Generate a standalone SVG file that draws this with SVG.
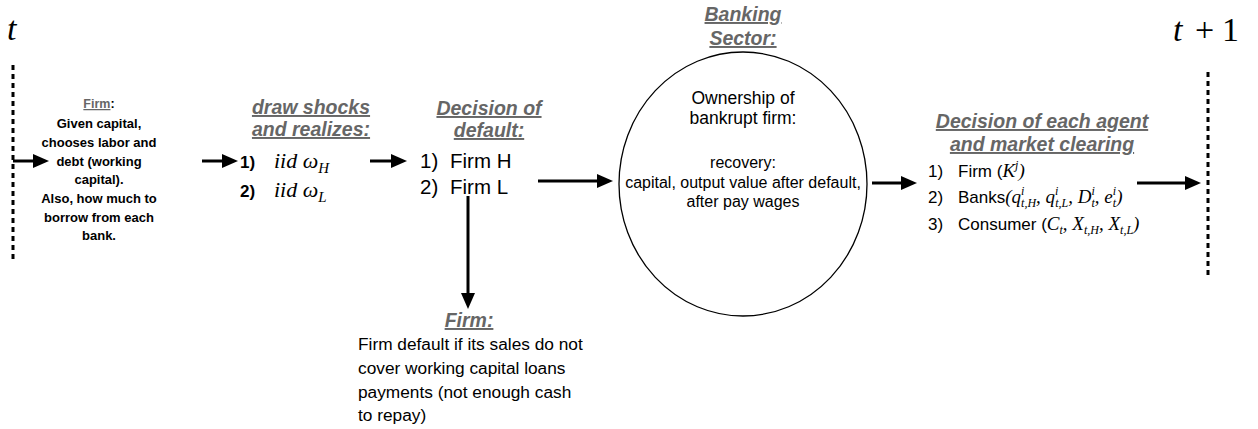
<svg xmlns="http://www.w3.org/2000/svg" width="1258" height="429" viewBox="0 0 1258 429">
<style>
.sans{font-family:"Liberation Sans",Arial,Helvetica,sans-serif;fill:#000}
.bold{font-weight:bold}
.serif{font-family:"Liberation Serif","Times New Roman",serif;font-style:italic;fill:#000}
.up{font-style:normal}
.head{font-family:"Liberation Sans",Arial,Helvetica,sans-serif;font-weight:bold;font-style:italic;font-size:19.5px;fill:#666;text-decoration:underline}
.gray{fill:#666;text-decoration:underline}
.mid{text-anchor:middle}
.conn{stroke:#000;stroke-width:3;fill:none}
.dash{stroke:#000;stroke-width:3;stroke-dasharray:5 4;fill:none}
.shape{stroke:#000;stroke-width:1.3;fill:#fff}
</style>
<defs>
<marker id="ah" viewBox="0 0 16 14" markerWidth="16" markerHeight="14" refX="5" refY="7" orient="auto" markerUnits="userSpaceOnUse">
<path d="M0,0 L16,7 L0,14 Z" fill="#000"/>
</marker>
</defs>
<rect width="1258" height="429" fill="#fff"/>

<g id="time-t">
<text class="serif" x="7" y="40" font-size="34">t</text>
<line class="dash" x1="13" y1="65" x2="13" y2="260"/>
</g>

<g id="time-t1">
<text class="serif" y="41" font-size="34"><tspan x="1173">t</tspan><tspan class="up" x="1195">+</tspan><tspan class="up" x="1222">1</tspan></text>
<line class="dash" x1="1208" y1="72" x2="1208" y2="279"/>
</g>

<g id="connectors">
<line class="conn" x1="13" y1="161" x2="38" y2="161" marker-end="url(#ah)"/>
<line class="conn" x1="202" y1="161" x2="227" y2="161" marker-end="url(#ah)"/>
<line class="conn" x1="370" y1="161" x2="396" y2="161" marker-end="url(#ah)"/>
<line class="conn" x1="538" y1="181" x2="602" y2="181" marker-end="url(#ah)"/>
<line class="conn" x1="872" y1="183" x2="906" y2="183" marker-end="url(#ah)"/>
<line class="conn" x1="1137" y1="183" x2="1190" y2="183" marker-end="url(#ah)"/>
<line class="conn" x1="468" y1="196" x2="468" y2="298" marker-end="url(#ah)"/>
</g>

<g id="firm-choice" class="sans bold mid" font-size="13">
<text x="99" y="108" font-size="12.5"><tspan class="gray">Firm</tspan>:</text>
<text x="99" y="128">Given capital,</text>
<text x="99" y="147">chooses labor and</text>
<text x="99" y="166">debt (working</text>
<text x="99" y="184">capital).</text>
<text x="99" y="203">Also, how much to</text>
<text x="99" y="222">borrow from each</text>
<text x="99" y="240">bank.</text>
</g>

<g id="shocks">
<text class="head mid" x="311" y="114">draw shocks</text>
<text class="head mid" x="311" y="136">and realizes:</text>
<text class="sans bold" x="240" y="168" font-size="17">1)</text>
<text class="serif" x="274" y="168" font-size="22">iid ω<tspan font-size="15" dy="5">H</tspan></text>
<text class="sans bold" x="240" y="197" font-size="17">2)</text>
<text class="serif" x="274" y="197" font-size="22">iid ω<tspan font-size="15" dy="5">L</tspan></text>
</g>

<g id="default-decision">
<text class="head mid" x="489" y="115">Decision of</text>
<text class="head mid" x="489" y="137">default:</text>
<text class="sans" x="420" y="168" font-size="20.5">1)</text>
<text class="sans" x="450" y="168" font-size="20.5">Firm H</text>
<text class="sans" x="420" y="194" font-size="20.5">2)</text>
<text class="sans" x="450" y="194" font-size="20.5">Firm L</text>
</g>

<g id="firm-default">
<text class="head mid" x="469" y="327">Firm:</text>
<text class="sans" x="358" y="350" font-size="17.3">Firm default if its sales do not</text>
<text class="sans" x="358" y="374" font-size="17.3">cover working capital loans</text>
<text class="sans" x="358" y="398" font-size="17.3">payments (not enough cash</text>
<text class="sans" x="358" y="421" font-size="17.3">to repay)</text>
</g>

<g id="banking-sector">
<text class="head mid" x="743" y="21" font-size="17">Banking</text>
<text class="head mid" x="743" y="45" font-size="17">Sector:</text>
<ellipse class="shape" cx="743" cy="184" rx="124" ry="132"/>
<text class="sans mid" x="743" y="104" font-size="17.5">Ownership of</text>
<text class="sans mid" x="743" y="124" font-size="17.5">bankrupt firm:</text>
<text class="sans mid" x="743" y="168" font-size="16">recovery:</text>
<text class="sans mid" x="743" y="188" font-size="16">capital, output value after default,</text>
<text class="sans mid" x="743" y="207" font-size="16">after pay wages</text>
</g>

<g id="agents-decision">
<text class="head mid" x="1042" y="128">Decision of each agent</text>
<text class="head mid" x="1042" y="151">and market clearing</text>
<text class="sans" x="928" y="177" font-size="17">1)</text>
<text x="958" y="177"><tspan class="sans" font-size="17">Firm (</tspan><tspan class="serif" font-size="19">K</tspan><tspan class="serif" font-size="12" dy="-8">j</tspan><tspan class="serif" font-size="19" dy="8">)</tspan></text>
<text class="sans" x="928" y="203" font-size="17">2)</text>
<text x="958" y="203"><tspan class="sans" font-size="17">Banks</tspan><tspan class="serif" font-size="19">(q</tspan><tspan class="serif" font-size="12" dy="-8">i</tspan><tspan class="serif" font-size="12" dx="-3.3" dy="12">t,H</tspan><tspan class="serif" font-size="19" dy="-4">, q</tspan><tspan class="serif" font-size="12" dy="-8">i</tspan><tspan class="serif" font-size="12" dx="-3.3" dy="12">t,L</tspan><tspan class="serif" font-size="19" dy="-4">, D</tspan><tspan class="serif" font-size="12" dy="-8">i</tspan><tspan class="serif" font-size="12" dx="-3.3" dy="12">t</tspan><tspan class="serif" font-size="19" dy="-4">, e</tspan><tspan class="serif" font-size="12" dy="-8">i</tspan><tspan class="serif" font-size="12" dx="-3.3" dy="12">t</tspan><tspan class="serif" font-size="19" dy="-4">)</tspan></text>
<text class="sans" x="928" y="230" font-size="17">3)</text>
<text x="958" y="230"><tspan class="sans" font-size="17">Consumer (</tspan><tspan class="serif" font-size="19">C</tspan><tspan class="serif" font-size="12" dy="4">t</tspan><tspan class="serif" font-size="19" dy="-4">, X</tspan><tspan class="serif" font-size="12" dy="4">t,H</tspan><tspan class="serif" font-size="19" dy="-4">, X</tspan><tspan class="serif" font-size="12" dy="4">t,L</tspan><tspan class="serif" font-size="19" dy="-4">)</tspan></text>
</g>
</svg>
